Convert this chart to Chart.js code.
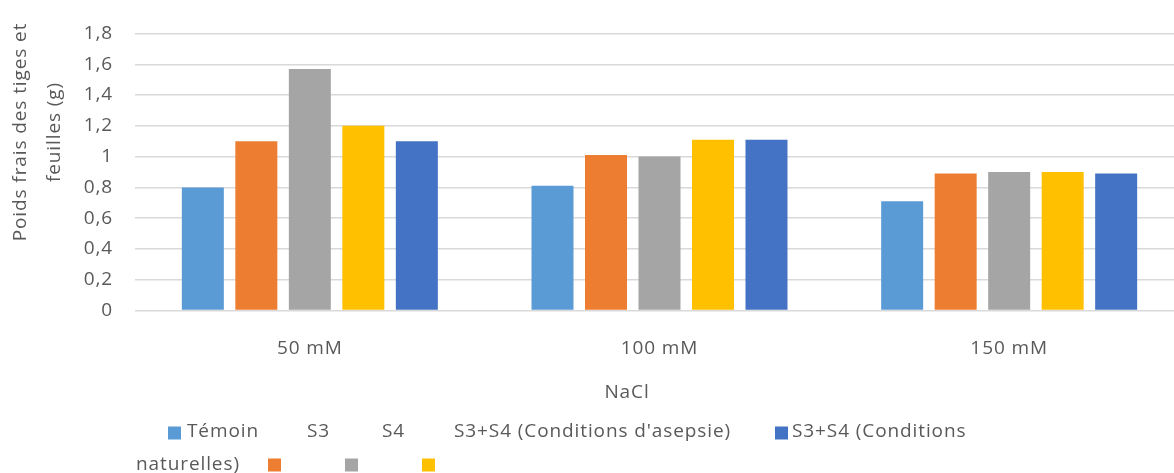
<!DOCTYPE html>
<html>
<head>
<meta charset="utf-8">
<script src="https://cdn.jsdelivr.net/npm/chart.js@4.4.0/dist/chart.umd.min.js"></script>
<style>
  html, body { margin: 0; padding: 0; background: #ffffff; overflow: hidden; }
  #wrap { position: absolute; left: 0; top: 0; width: 1184px; height: 473px; }
</style>
</head>
<body>
<div id="wrap"><canvas id="c" width="1184" height="473"></canvas></div>
<script>
// Fresh weight of stems and leaves per NaCl level
const categories = ['50 mM', '100 mM', '150 mM'];
const seriesNames = ['Témoin', 'S3', 'S4', "S3+S4 (Conditions d'asepsie)", 'S3+S4 (Conditions naturelles)'];
const temoin = [0.80, 0.81, 0.71];
const s3 = [1.10, 1.01, 0.89];
const s4 = [1.57, 1.00, 0.90];
const s3s4Asepsie = [1.20, 1.11, 0.90];
const s3s4Naturelles = [1.10, 1.11, 0.89];
const yTickLabels = ['0', '0,2', '0,4', '0,6', '0,8', '1', '1,2', '1,4', '1,6', '1,8'];
const xAxisTitle = 'NaCl';
const yAxisTitle = ['Poids frais des tiges et', 'feuilles (g)'];

const seriesColors = ['#5B9BD5', '#ED7D31', '#A5A5A5', '#FFC000', '#4472C4'];
const seriesValues = [temoin, s3, s4, s3s4Asepsie, s3s4Naturelles];

const TEXT = '#595959';
const FONT = "'Open Sans', sans-serif";
const FONT_SIZE = 19;
const SPACING = '0.9px';

Chart.defaults.font.family = FONT;
Chart.defaults.font.size = FONT_SIZE;
Chart.defaults.color = TEXT;

// Slightly wider letter spacing for all canvas text
const spacingPlugin = {
  id: 'spacing',
  beforeLayout(chart) { chart.ctx.letterSpacing = SPACING; },
  beforeDraw(chart) { chart.ctx.letterSpacing = SPACING; }
};

// Axis titles and the legend block under the plot
const annotationsPlugin = {
  id: 'annotations',
  afterDraw(chart) {
    const ctx = chart.ctx;
    ctx.save();
    ctx.letterSpacing = SPACING;
    ctx.font = FONT_SIZE + 'px ' + FONT;
    ctx.fillStyle = TEXT;
    ctx.textBaseline = 'middle';

    // x-axis title
    ctx.textAlign = 'center';
    ctx.fillText(xAxisTitle, 627, 393);

    // y-axis title, two rotated lines
    ctx.save();
    ctx.translate(21, 132);
    ctx.rotate(-Math.PI / 2);
    ctx.textAlign = 'center';
    ctx.fillText(yAxisTitle[0], 0, 0);
    ctx.fillText(yAxisTitle[1], 0, 34);
    ctx.restore();

    // legend
    const row1 = 432, row2 = 465, box = 13;
    const marker = (i, x, y) => {
      ctx.fillStyle = seriesColors[i];
      ctx.fillRect(x, y - box / 2, box, box);
    };
    const label = (t, x, y) => {
      ctx.fillStyle = TEXT;
      ctx.textAlign = 'left';
      ctx.fillText(t, x, y);
    };
    marker(0, 168, row1 + 1);
    label(seriesNames[0], 187, row1);
    label(seriesNames[1], 307, row1);
    label(seriesNames[2], 382, row1);
    label(seriesNames[3], 454, row1);
    marker(4, 775, row1 + 1);
    const lastWords = seriesNames[4].split(' ');
    label(lastWords.slice(0, 2).join(' '), 792, row1);
    label(lastWords.slice(2).join(' '), 136, row2);
    marker(1, 268, row2);
    marker(2, 345, row2);
    marker(3, 422, row2);
    ctx.restore();
  }
};

new Chart(document.getElementById('c'), {
  type: 'bar',
  data: {
    labels: categories,
    datasets: seriesNames.map((name, i) => ({
      label: name,
      data: seriesValues[i],
      backgroundColor: seriesColors[i],
      borderWidth: 0,
      categoryPercentage: 0.765,
      barPercentage: 0.785
    }))
  },
  options: {
    responsive: false,
    animation: false,
    devicePixelRatio: 1,
    layout: { padding: { top: 33.5, right: 0, bottom: 0, left: 0 } },
    plugins: {
      legend: { display: false },
      tooltip: { enabled: false },
      title: { display: false }
    },
    scales: {
      x: {
        grid: { display: false, drawTicks: false },
        border: { display: false },
        ticks: { padding: 27, color: TEXT, font: { size: FONT_SIZE } },
        afterFit(scale) { scale.height = 162.5; }
      },
      y: {
        min: 0,
        max: 1.8,
        grid: { color: '#D9D9D9', lineWidth: 1.5, drawTicks: false },
        border: { display: false },
        ticks: {
          stepSize: 0.2,
          padding: 22,
          color: TEXT,
          font: { size: FONT_SIZE },
          callback: (v) => yTickLabels[Math.round(v / 0.2)]
        },
        afterFit(scale) { scale.width = 135; }
      }
    }
  },
  plugins: [spacingPlugin, annotationsPlugin]
});
</script>
</body>
</html>
